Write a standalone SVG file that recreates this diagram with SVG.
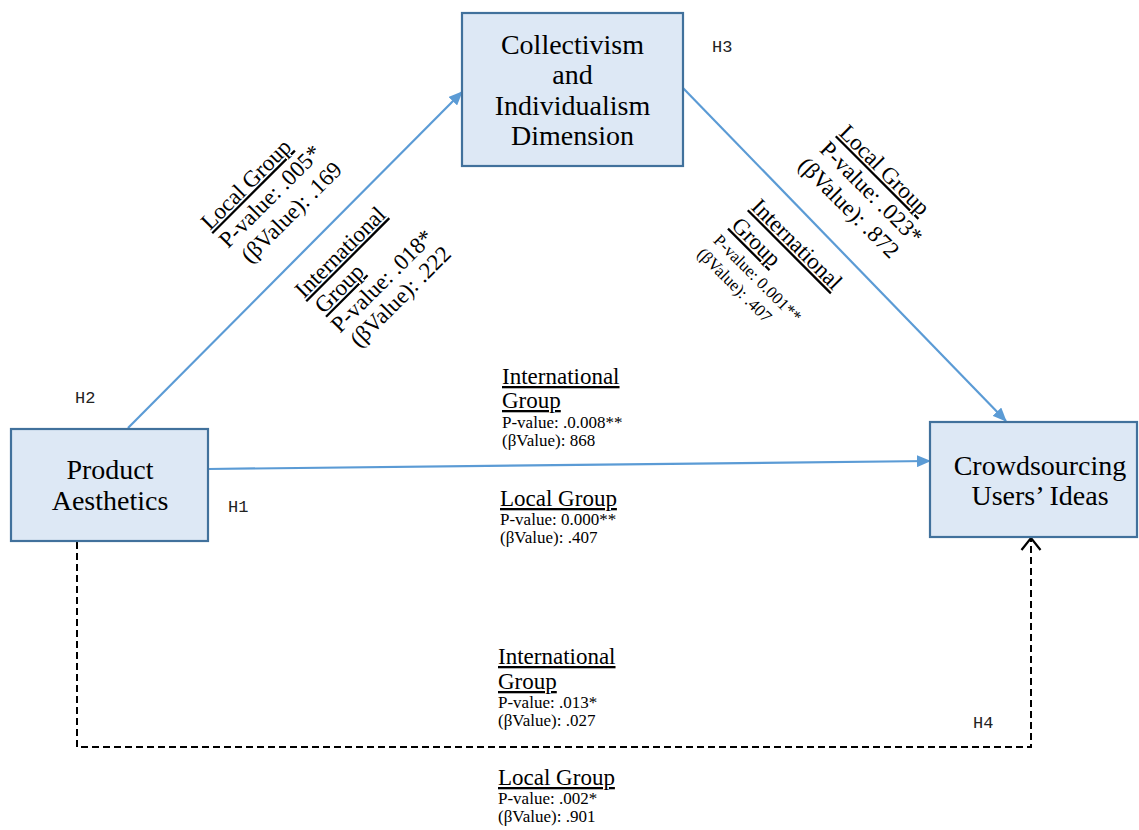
<svg xmlns="http://www.w3.org/2000/svg" width="1139" height="830" viewBox="0 0 1139 830">
<style>
.box{fill:#DDE8F5;stroke:#41719C;stroke-width:2.2}
.bt{font-family:"Liberation Serif","Times New Roman",serif;font-size:28px;fill:#000;text-anchor:middle}
.lg{font-family:"Liberation Serif","Times New Roman",serif;font-size:23px;fill:#000}
.sm{font-family:"Liberation Serif","Times New Roman",serif;font-size:17px;fill:#000}
.ul{text-decoration:underline}
.h{font-family:"Liberation Mono","Courier New",monospace;font-size:17px;fill:#222}
.con{fill:none;stroke:#5B9BD5;stroke-width:2.2}
.dash{fill:none;stroke:#000;stroke-width:2;stroke-dasharray:7,4}
</style>
<defs>
<marker id="ab" markerUnits="userSpaceOnUse" markerWidth="14" markerHeight="12" refX="13" refY="6" orient="auto">
<path d="M0,0 L14,6 L0,12 Z" fill="#5B9BD5"/>
</marker>
<marker id="ao" markerUnits="userSpaceOnUse" markerWidth="16" markerHeight="22" refX="13" refY="11" orient="auto">
<path d="M1,1.5 L13,11 L1,20.5" fill="none" stroke="#000" stroke-width="2.2"/>
</marker>
</defs>
<g id="connectors">
<line class="con" x1="128" y1="428" x2="462" y2="92" marker-end="url(#ab)"/>
<line class="con" x1="683" y1="88" x2="1006" y2="421" marker-end="url(#ab)"/>
<line class="con" x1="208" y1="469" x2="930" y2="461" marker-end="url(#ab)"/>
<path class="dash" d="M77,542 V747 H1031 V538" marker-end="url(#ao)"/>
</g>
<g id="node-collectivism">
<rect class="box" x="462" y="13" width="221" height="153"/>
<text class="bt" x="572.5" y="54">Collectivism</text>
<text class="bt" x="572.5" y="84">and</text>
<text class="bt" x="572.5" y="115">Individualism</text>
<text class="bt" x="572.5" y="145">Dimension</text>
</g>
<g id="node-product">
<rect class="box" x="11" y="429" width="197" height="112"/>
<text class="bt" x="110" y="479">Product</text>
<text class="bt" x="110" y="510">Aesthetics</text>
</g>
<g id="node-crowd">
<rect class="box" x="930" y="422" width="207" height="115"/>
<text class="bt" x="1040" y="475">Crowdsourcing</text>
<text class="bt" x="1040" y="505">Users’ Ideas</text>
</g>
<g id="hyp-labels">
<text class="h" x="712" y="52">H3</text>
<text class="h" x="75" y="403">H2</text>
<text class="h" x="228" y="512">H1</text>
<text class="h" x="973" y="728">H4</text>
</g>
<g id="label-h2-local" transform="translate(210,231) rotate(-45)">
<text class="lg ul" x="0" y="0">Local Group</text>
<text class="lg" x="0" y="25.5">P-value: .005*</text>
<text class="lg" x="5" y="52">(βValue): .169</text>
</g>
<g id="label-h2-intl" transform="translate(304,299) rotate(-45)">
<text class="lg ul" x="0" y="0">International</text>
<text class="lg ul" x="3" y="25">Group</text>
<text class="lg" x="1" y="50">P-value: .018*</text>
<text class="lg" x="4" y="74">(βValue): .222</text>
</g>
<g id="label-h3-local" transform="translate(838,134) rotate(45)">
<text class="lg ul" x="0" y="0">Local Group</text>
<text class="lg" x="-2" y="25.5">P-value: .023*</text>
<text class="lg" x="-6" y="52">(βValue): .872</text>
</g>
<g id="label-h3-intl" transform="translate(750,208) rotate(45)">
<text class="lg ul" x="0" y="0">International</text>
<text class="lg ul" x="-1" y="27">Group</text>
<text class="sm" x="-3" y="50">P-value: 0.001**</text>
<text class="sm" x="-5" y="71">(βValue): .407</text>
</g>
<g id="label-h1">
<text class="lg ul" x="502" y="384">International</text>
<text class="lg ul" x="502" y="408">Group</text>
<text class="sm" x="502" y="428">P-value: .0.008**</text>
<text class="sm" x="502" y="446">(βValue): 868</text>
<text class="lg ul" x="500" y="506">Local Group</text>
<text class="sm" x="500" y="525">P-value: 0.000**</text>
<text class="sm" x="500" y="543">(βValue): .407</text>
</g>
<g id="label-h4">
<text class="lg ul" x="498" y="664">International</text>
<text class="lg ul" x="498" y="689">Group</text>
<text class="sm" x="498" y="708">P-value: .013*</text>
<text class="sm" x="498" y="726">(βValue): .027</text>
<text class="lg ul" x="498" y="785">Local Group</text>
<text class="sm" x="498" y="804">P-value: .002*</text>
<text class="sm" x="498" y="822">(βValue): .901</text>
</g>
</svg>
